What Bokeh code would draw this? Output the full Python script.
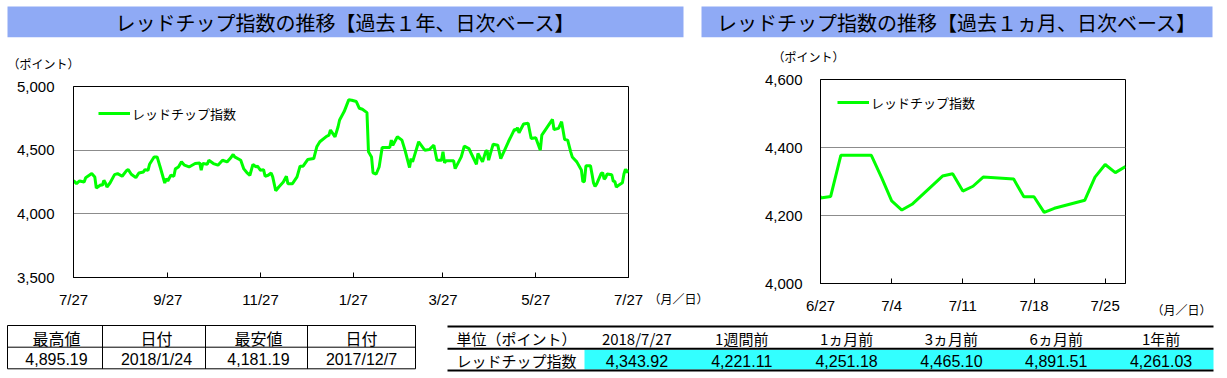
import pandas as pd
from bokeh.plotting import figure
from bokeh.layouts import column, row
from bokeh.models import (Range1d, FixedTicker, NumeralTickFormatter, CustomJSTickFormatter,
                          Legend, LegendItem, ColumnDataSource)
from bokeh.core.properties import value
from bokeh.embed import file_html
from bokeh.resources import INLINE

# ---------------- data ----------------
dates = [
    "2017-07-27", "2017-07-29", "2017-07-31", "2017-08-03", "2017-08-04", "2017-08-08", "2017-08-10",
    "2017-08-11", "2017-08-14", "2017-08-15", "2017-08-16", "2017-08-17", "2017-08-18", "2017-08-20",
    "2017-08-23", "2017-08-25", "2017-08-28", "2017-08-31", "2017-09-01", "2017-09-03", "2017-09-06",
    "2017-09-08", "2017-09-11", "2017-09-12", "2017-09-14", "2017-09-15", "2017-09-18", "2017-09-20",
    "2017-09-22", "2017-09-25", "2017-09-26", "2017-09-27", "2017-09-29", "2017-10-01", "2017-10-02",
    "2017-10-04", "2017-10-06", "2017-10-08", "2017-10-11", "2017-10-15", "2017-10-18", "2017-10-19",
    "2017-10-20", "2017-10-23", "2017-10-24", "2017-10-27", "2017-10-30", "2017-11-02", "2017-11-05",
    "2017-11-07", "2017-11-09", "2017-11-10", "2017-11-14", "2017-11-16", "2017-11-18", "2017-11-20",
    "2017-11-22", "2017-11-24", "2017-11-25", "2017-11-27", "2017-11-29", "2017-11-30", "2017-12-02",
    "2017-12-04", "2017-12-05", "2017-12-07", "2017-12-09", "2017-12-12", "2017-12-14", "2017-12-15",
    "2017-12-18", "2017-12-21", "2017-12-23", "2017-12-25", "2017-12-28", "2018-01-01", "2018-01-03",
    "2018-01-05", "2018-01-09", "2018-01-11", "2018-01-12", "2018-01-15", "2018-01-17", "2018-01-18",
    "2018-01-21", "2018-01-24", "2018-01-26", "2018-01-29", "2018-01-31", "2018-02-02", "2018-02-05",
    "2018-02-06", "2018-02-08", "2018-02-09", "2018-02-11", "2018-02-13", "2018-02-15", "2018-02-20",
    "2018-02-21", "2018-02-22", "2018-02-25", "2018-02-28", "2018-03-02", "2018-03-05", "2018-03-06",
    "2018-03-07", "2018-03-11", "2018-03-15", "2018-03-18", "2018-03-21", "2018-03-23", "2018-03-26",
    "2018-03-27", "2018-03-28", "2018-03-29", "2018-04-03", "2018-04-04", "2018-04-08", "2018-04-10",
    "2018-04-13", "2018-04-18", "2018-04-19", "2018-04-22", "2018-04-24", "2018-04-25", "2018-04-26",
    "2018-04-27", "2018-04-29", "2018-05-02", "2018-05-04", "2018-05-09", "2018-05-13", "2018-05-14",
    "2018-05-15", "2018-05-16", "2018-05-19", "2018-05-22", "2018-05-24", "2018-05-27", "2018-05-30",
    "2018-05-31", "2018-06-03", "2018-06-07", "2018-06-08", "2018-06-11", "2018-06-13", "2018-06-15",
    "2018-06-17", "2018-06-19", "2018-06-20", "2018-06-22", "2018-06-23", "2018-06-26", "2018-06-27",
    "2018-06-28", "2018-06-29", "2018-07-02", "2018-07-03", "2018-07-04", "2018-07-05", "2018-07-06",
    "2018-07-09", "2018-07-10", "2018-07-11", "2018-07-12", "2018-07-13", "2018-07-16", "2018-07-17",
    "2018-07-18", "2018-07-19", "2018-07-20", "2018-07-23", "2018-07-24", "2018-07-25", "2018-07-26",
    "2018-07-27",
]
index_values = [
    4261.03, 4237, 4258, 4250, 4284, 4316, 4290,
    4203, 4229, 4224, 4263, 4242, 4211, 4242,
    4308, 4316, 4295, 4342, 4347, 4311, 4284,
    4321, 4329, 4347, 4342, 4389, 4447, 4447,
    4368, 4242, 4276, 4258, 4303, 4295, 4353,
    4368, 4408, 4382, 4368, 4395, 4400, 4342,
    4395, 4389, 4421, 4395, 4382, 4421, 4408,
    4434, 4466, 4447, 4421, 4353, 4324, 4303,
    4389, 4368, 4374, 4342, 4347, 4295, 4303,
    4321, 4290, 4181.19, 4211, 4250, 4295, 4237,
    4237, 4290, 4374, 4374, 4426, 4434, 4526,
    4566, 4605, 4618, 4658, 4605, 4684, 4737,
    4803, 4895.19, 4891.51, 4882, 4829, 4821, 4795,
    4487, 4447, 4321, 4311, 4368, 4521, 4521,
    4579, 4539, 4605, 4579, 4500, 4363, 4434,
    4408, 4566, 4500, 4505, 4539, 4421, 4421,
    4487, 4400, 4416, 4416, 4355, 4447, 4532,
    4513, 4389, 4474, 4408, 4487, 4500, 4421,
    4465.10, 4547, 4539, 4434, 4566, 4663, 4658,
    4676, 4637, 4705, 4711, 4592, 4597, 4500,
    4618, 4671, 4742, 4663, 4671, 4724, 4584,
    4579, 4487, 4447, 4421, 4408, 4345, 4251.18,
    4256, 4377, 4377, 4312, 4243, 4216, 4233,
    4316, 4323, 4272, 4286, 4313, 4307, 4255,
    4255, 4209, 4221.11, 4245, 4313, 4350, 4326,
    4343.92,
]

series_name = "レッドチップ指数"
title_1y = "レッドチップ指数の推移【過去１年、日次ベース】"
title_1m = "レッドチップ指数の推移【過去１ヵ月、日次ベース】"
y_unit_label = "（ポイント）"
x_unit_label = "（月／日）"

range_1y = ["2017-07-27", "2018-07-27"]
range_1m = ["2018-06-27", "2018-07-27"]
xticks_1y = ["2017-07-27", "2017-09-27", "2017-11-27", "2018-01-27", "2018-03-27", "2018-05-27", "2018-07-27"]
xticks_1m = ["2018-06-27", "2018-07-04", "2018-07-11", "2018-07-18", "2018-07-25"]
yrange_1y = [3500, 5000]
yticks_1y = [3500, 4000, 4500, 5000]
yrange_1m = [4000, 4600]
yticks_1m = [4000, 4200, 4400, 4600]

stats_headers = ["最高値", "日付", "最安値", "日付"]
stats_values = ["4,895.19", "2018/1/24", "4,181.19", "2017/12/7"]

cmp_headers = ["単位（ポイント）", "2018/7/27", "1週間前", "1ヵ月前", "3ヵ月前", "6ヵ月前", "1年前"]
cmp_row_label = "レッドチップ指数"
cmp_values = [4343.92, 4221.11, 4251.18, 4465.10, 4891.51, 4261.03]

# ---------------- styles ----------------
JP = "Noto Sans CJK JP"
NUM = "Liberation Sans"
BAR = "#8FAAF5"
GREEN = "#00FF00"
CYAN = "#33FFFF"
GRID = "#8C8C8C"

TOP_H = 71       # page y where the chart row starts
ROW_END = 322    # page y where the chart row ends


def ms(d):
    return pd.Timestamp(d).value // 10**6


src = ColumnDataSource(dict(date=pd.to_datetime(dates), value=index_values))

fmt_md = CustomJSTickFormatter(code="""
const d = new Date(tick);
return (d.getUTCMonth() + 1) + "/" + d.getUTCDate();
""")


def blank(width, height, x0, y0):
    """A figure whose data coordinates are page pixels (y downwards)."""
    f = figure(width=width, height=height, output_backend="svg", toolbar_location=None,
               x_range=Range1d(x0, x0 + width), y_range=Range1d(y0 + height, y0),
               x_axis_location=None, y_axis_location=None, min_border=0, frame_align=False)
    f.grid.visible = False
    f.outline_line_color = None
    f.background_fill_color = "white"
    f.border_fill_color = "white"
    return f


def make_chart(width, height, xr, xt, yr, yt, mb, legend_loc, standoff_y):
    p = figure(width=width, height=height, output_backend="svg", toolbar_location=None,
               x_axis_type="datetime", frame_align=False,
               x_range=Range1d(pd.Timestamp(xr[0]), pd.Timestamp(xr[1])),
               y_range=Range1d(yr[0], yr[1]),
               min_border_left=mb[0], min_border_right=mb[1],
               min_border_top=mb[2], min_border_bottom=mb[3])
    p.background_fill_color = "white"
    p.border_fill_color = "white"
    p.outline_line_color = "black"
    p.outline_line_width = 1
    p.xgrid.visible = False
    p.ygrid.ticker = FixedTicker(ticks=yt)
    p.ygrid.grid_line_color = GRID
    p.ygrid.grid_line_width = 1

    p.xaxis.ticker = FixedTicker(ticks=[ms(d) for d in xt])
    p.xaxis.formatter = fmt_md
    p.xaxis.major_tick_in = 5
    p.xaxis.major_tick_out = 0
    p.xaxis.minor_tick_in = 0
    p.xaxis.minor_tick_out = 0
    p.xaxis.major_label_standoff = 13
    p.yaxis.ticker = FixedTicker(ticks=yt)
    p.yaxis.formatter = NumeralTickFormatter(format="0,0")
    p.yaxis.major_tick_in = 0
    p.yaxis.major_tick_out = 0
    p.yaxis.minor_tick_in = 0
    p.yaxis.minor_tick_out = 0
    p.yaxis.major_label_standoff = standoff_y
    for ax in (p.xaxis, p.yaxis):
        ax.axis_line_color = "black"
        ax.axis_line_width = 1
        ax.major_tick_line_color = "black"
        ax.major_label_text_font = NUM
        ax.major_label_text_font_size = "15px"
        ax.major_label_text_color = "black"

    r = p.line("date", "value", source=src, line_color=GREEN, line_width=3)
    leg = Legend(items=[LegendItem(label=series_name, renderers=[r])],
                 location=legend_loc, glyph_width=32, glyph_height=20, label_height=20,
                 label_standoff=2, padding=0, margin=0, spacing=0,
                 border_line_alpha=0, background_fill_alpha=0,
                 label_text_font=JP, label_text_font_size="13px", label_text_color="black")
    p.add_layout(leg)
    return p


ROW_H = ROW_END - TOP_H
# left chart: frame page x 73..628, y 86..277 ; figure page x 0..648
left = make_chart(648, ROW_H, range_1y, xticks_1y, yrange_1y, yticks_1y,
                  (73, 20, 86 - TOP_H, ROW_END - 277), (25, 154), 19)
# unit label strip between the charts: page x 648..720
unit_l = blank(72, ROW_H, 648, TOP_H)
unit_l.text(x=[648], y=[298], text=[x_unit_label], text_font=value(JP), text_font_size="12px",
            text_align="left", text_baseline="middle", text_color="black")
# right chart: frame page x 820..1125, y 79..283 ; figure page x 720..1140
right = make_chart(420, ROW_H, range_1m, xticks_1m, yrange_1m, yticks_1m,
                   (100, 15, 79 - TOP_H, ROW_END - 283), (17, 171), 18)
# unit label strip at the far right: page x 1140..1227
unit_r = blank(87, ROW_H, 1140, TOP_H)
unit_r.text(x=[1151], y=[309], text=[x_unit_label], text_font=value(JP), text_font_size="12px",
            text_align="left", text_baseline="middle", text_color="black")

# ---------------- title bars + y unit labels ----------------
top = blank(1227, TOP_H, 0, 0)
top.quad(left=[7, 701], right=[683, 1212], top=[6, 6], bottom=[36.7, 36.7],
         fill_color=BAR, line_color=None)
top.text(x=[345, 956.5], y=[21.5, 21.5], text=[title_1y, title_1m],
         text_font=value(JP), text_font_size="20px", text_align="center",
         text_baseline="middle", text_color="black")
top.text(x=[7, 772], y=[63, 56], text=[y_unit_label, y_unit_label],
         text_font=value(JP), text_font_size="12px", text_align="left",
         text_baseline="middle", text_color="black")

# ---------------- tables ----------------
bot = blank(1227, 378 - ROW_END, 0, ROW_END)

# left stats table
lx = [7, 102, 205, 307, 415]
ly = [325, 346.7, 368.3]
bot.segment(x0=[lx[0]] * 3, x1=[lx[-1]] * 3, y0=ly, y1=ly, line_color="black", line_width=1)
bot.segment(x0=lx, x1=lx, y0=[ly[0]] * 5, y1=[ly[-1]] * 5, line_color="black", line_width=1)
lcent = [56, 156, 258, 361]
bot.text(x=lcent, y=[337] * 4, text=stats_headers, text_font=value(JP), text_font_size="16px",
         text_align="center", text_baseline="middle", text_color="black")
bot.text(x=lcent, y=[358.5] * 4, text=stats_values, text_font=value(NUM), text_font_size="16px",
         text_align="center", text_baseline="middle", text_color="black")

# right comparison table
rx0, rx1, cyan0 = 447, 1213, 584
colw = (rx1 - cyan0) / len(cmp_values)
bot.quad(left=[cyan0], right=[rx1], top=[349.3], bottom=[369], fill_color=CYAN, line_color=None)
bot.segment(x0=[rx0] * 3, x1=[rx1] * 3, y0=[326, 348.3, 370], y1=[326, 348.3, 370],
            line_color="black", line_width=2)
ccent = [cyan0 + colw * (i + 0.5) for i in range(len(cmp_values))]
bot.text(x=[516] + ccent, y=[337.5] * len(cmp_headers), text=cmp_headers,
         text_font=value(JP), text_font_size="15px", text_align="center",
         text_baseline="middle", text_color="black")
bot.text(x=[516], y=[360], text=[cmp_row_label], text_font=value(JP), text_font_size="15px",
         text_align="center", text_baseline="middle", text_color="black")
bot.text(x=ccent, y=[360] * len(cmp_values), text=[f"{v:,.2f}" for v in cmp_values],
         text_font=value(NUM), text_font_size="16px", text_align="center",
         text_baseline="middle", text_color="black")

layout = column(top, row(left, unit_l, right, unit_r), bot)
open("out.html", "w").write(file_html(layout, INLINE))
